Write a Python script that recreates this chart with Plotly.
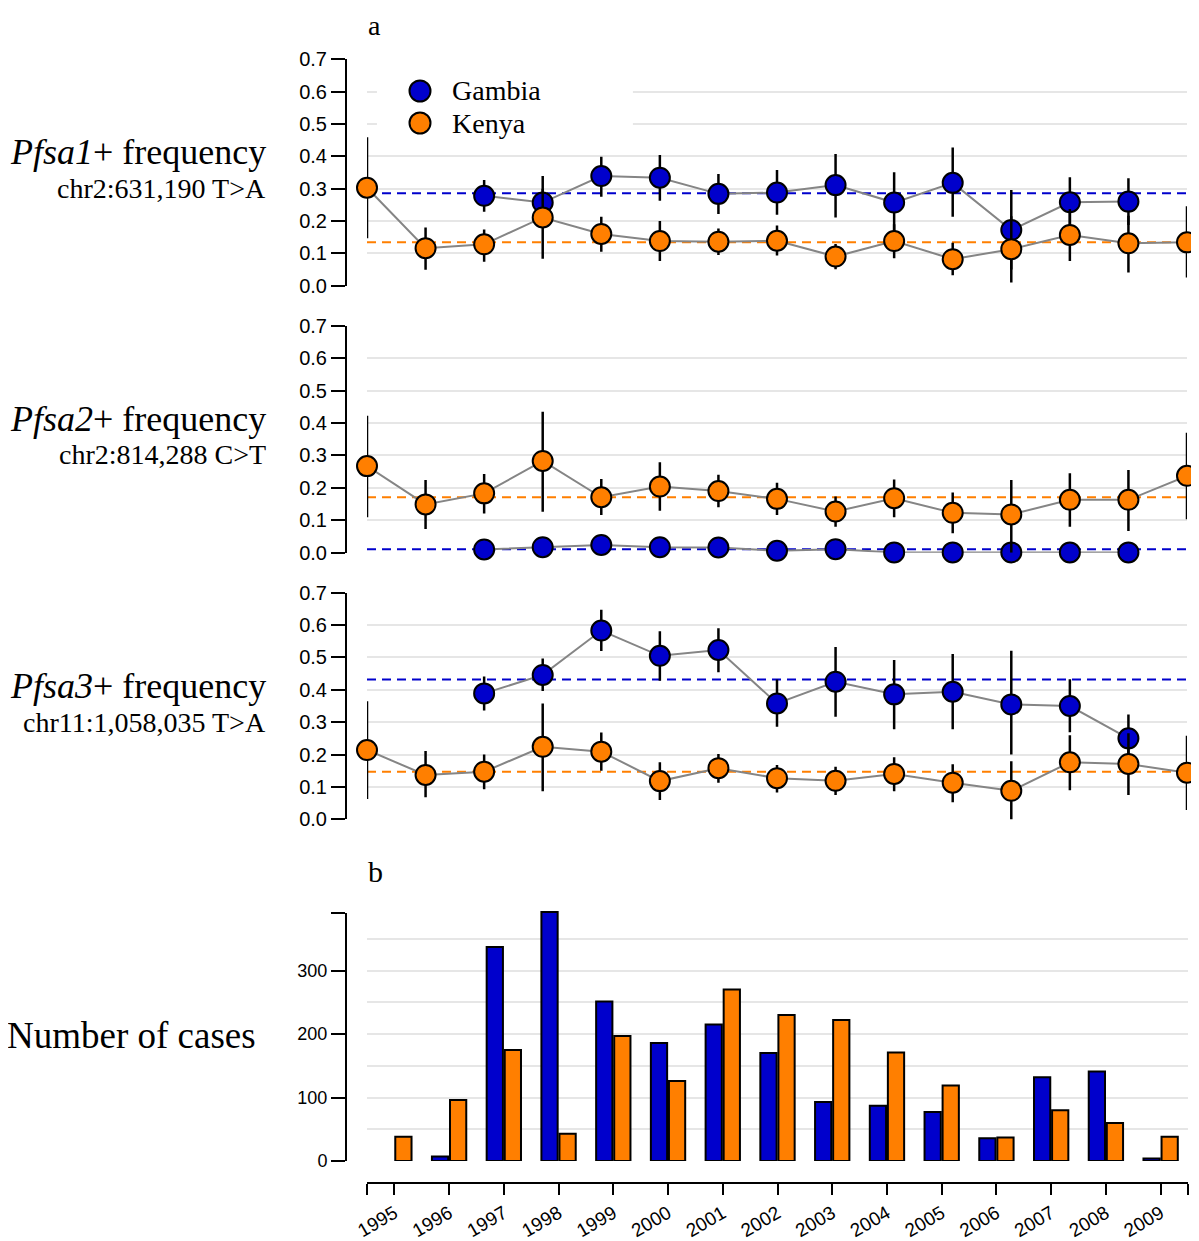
import plotly.graph_objects as go

# ---------------- data ----------------
years = list(range(1995, 2010))

# Pfsa1
p1_gambia = [None, None, 0.278, 0.257, 0.339, 0.334, 0.284, 0.288, 0.311, 0.257, 0.318, 0.172, 0.258, 0.260, None]
p1_gambia_hi = [None, None, 0.327, 0.300, 0.399, 0.404, 0.345, 0.358, 0.407, 0.351, 0.427, 0.296, 0.335, 0.332, None]
p1_gambia_lo = [None, None, 0.229, 0.215, 0.275, 0.263, 0.222, 0.219, 0.211, 0.165, 0.213, 0.050, 0.183, 0.188, None]
p1_kenya = [0.303, 0.116, 0.128, 0.211, 0.160, 0.138, 0.136, 0.139, 0.090, 0.138, 0.082, 0.113, 0.157, 0.131, 0.134]
p1_kenya_hi = [0.459, 0.180, 0.174, 0.339, 0.213, 0.200, 0.177, 0.186, 0.129, 0.190, 0.133, 0.215, 0.237, 0.216, 0.246]
p1_kenya_lo = [0.147, 0.049, 0.074, 0.083, 0.105, 0.076, 0.095, 0.093, 0.051, 0.085, 0.032, 0.010, 0.076, 0.041, 0.025]
p1_mean_gambia = 0.286
p1_mean_kenya = 0.134

# Pfsa2
p2_gambia = [None, None, 0.010, 0.017, 0.024, 0.017, 0.016, 0.006, 0.011, 0.001, 0.001, 0.001, 0.001, 0.001, None]
p2_gambia_hi = [None, None, 0.021, 0.030, 0.043, 0.036, 0.033, 0.018, 0.032, 0.012, 0.014, 0.030, 0.010, 0.010, None]
p2_gambia_lo = [None, None, 0.000, 0.004, 0.005, 0.000, 0.000, 0.000, 0.000, 0.000, 0.000, 0.000, 0.000, 0.000, None]
p2_kenya = [0.267, 0.149, 0.183, 0.283, 0.171, 0.204, 0.190, 0.166, 0.127, 0.168, 0.123, 0.118, 0.163, 0.163, 0.237]
p2_kenya_hi = [0.422, 0.224, 0.243, 0.435, 0.227, 0.279, 0.240, 0.216, 0.173, 0.226, 0.186, 0.224, 0.245, 0.255, 0.370]
p2_kenya_lo = [0.109, 0.073, 0.121, 0.126, 0.116, 0.129, 0.140, 0.116, 0.080, 0.109, 0.060, 0.000, 0.080, 0.067, 0.103]
p2_mean_gambia = 0.011
p2_mean_kenya = 0.171

# Pfsa3
p3_gambia = [None, None, 0.389, 0.446, 0.583, 0.505, 0.523, 0.358, 0.425, 0.386, 0.394, 0.355, 0.350, 0.250, None]
p3_gambia_hi = [None, None, 0.441, 0.497, 0.647, 0.581, 0.590, 0.432, 0.532, 0.492, 0.511, 0.521, 0.433, 0.324, None]
p3_gambia_lo = [None, None, 0.336, 0.396, 0.520, 0.428, 0.454, 0.286, 0.317, 0.278, 0.278, 0.200, 0.269, 0.180, None]
p3_kenya = [0.214, 0.137, 0.147, 0.224, 0.209, 0.118, 0.158, 0.127, 0.119, 0.140, 0.113, 0.088, 0.176, 0.171, 0.144]
p3_kenya_hi = [0.365, 0.211, 0.200, 0.358, 0.268, 0.176, 0.202, 0.168, 0.162, 0.192, 0.170, 0.179, 0.260, 0.266, 0.258]
p3_kenya_lo = [0.063, 0.068, 0.093, 0.087, 0.150, 0.060, 0.113, 0.083, 0.075, 0.087, 0.053, -0.005, 0.090, 0.075, 0.029]
p3_mean_gambia = 0.432
p3_mean_kenya = 0.147

# Number of cases
cases_gambia = [None, 7, 337, 392, 251, 186, 215, 170, 93, 87, 77, 36, 132, 141, 4]
cases_kenya = [38, 96, 175, 43, 197, 126, 270, 230, 222, 171, 119, 37, 80, 60, 38]

legend_names = ["Gambia", "Kenya"]
panel_titles = ["<i>Pfsa1</i>+ frequency", "<i>Pfsa2</i>+ frequency", "<i>Pfsa3</i>+ frequency"]
panel_subtitles = ["chr2:631,190 T>A", "chr2:814,288 C>T", "chr11:1,058,035 T>A"]
freq_ticks = [0.0, 0.1, 0.2, 0.3, 0.4, 0.5, 0.6, 0.7]
case_ticks = [0, 100, 200, 300, 390]
case_ticktext = ["0", "100", "200", "300", ""]

# ---------------- style ----------------
BLUE = "#0000cc"
ORANGE = "#ff7f00"
GREY = "#858585"
GRID = "#e6e6e6"
SERIF = "Liberation Serif"
SANS = "Liberation Sans"
OFF = 8                      # page body margin of the browser
W, H = 1199 - OFF, 1241 - OFF
legend_colors = [BLUE, ORANGE]


def px_x(p):
    return (p - OFF) / W


def px_y(p):
    return 1 - (p - OFF) / H


X0, X1 = px_x(367), px_x(1187)
YAX = px_x(346)
freq_domains = [
    [px_y(285.7), px_y(59.3)],
    [px_y(552.7), px_y(325.7)],
    [px_y(819.3), px_y(592.7)],
]

panels = [
    (p1_gambia, p1_gambia_hi, p1_gambia_lo, p1_kenya, p1_kenya_hi, p1_kenya_lo, p1_mean_gambia, p1_mean_kenya),
    (p2_gambia, p2_gambia_hi, p2_gambia_lo, p2_kenya, p2_kenya_hi, p2_kenya_lo, p2_mean_gambia, p2_mean_kenya),
    (p3_gambia, p3_gambia_hi, p3_gambia_lo, p3_kenya, p3_kenya_hi, p3_kenya_lo, p3_mean_gambia, p3_mean_kenya),
]


def err(vals, hi):
    return [None if v is None else h - v for v, h in zip(vals, hi)]


def errm(vals, lo):
    return [None if v is None else v - l for v, l in zip(vals, lo)]


fig = go.Figure()

for i, (g, gh, gl, k, kh, kl, mg, mk) in enumerate(panels, start=1):
    xa = "x" if i == 1 else f"x{i}"
    ya = "y" if i == 1 else f"y{i}"
    # mean dashed lines
    for m, c in ((mg, BLUE), (mk, ORANGE)):
        fig.add_trace(go.Scatter(
            x=[years[0], years[-1]], y=[m, m], mode="lines", xaxis=xa, yaxis=ya,
            line=dict(color=c, width=2, dash="9px,6px"), showlegend=False,
            hoverinfo="skip", cliponaxis=False))
    # grey connecting lines
    for vals in (g, k):
        fig.add_trace(go.Scatter(
            x=years, y=vals, mode="lines", xaxis=xa, yaxis=ya,
            line=dict(color=GREY, width=2), connectgaps=False,
            showlegend=False, hoverinfo="skip", cliponaxis=False))
    # markers with error bars
    for name, vals, hi, lo, c in (("Gambia", g, gh, gl, BLUE), ("Kenya", k, kh, kl, ORANGE)):
        fig.add_trace(go.Scatter(
            x=years, y=vals, mode="markers", xaxis=xa, yaxis=ya, name=name,
            showlegend=False, cliponaxis=False,
            marker=dict(size=20, color=c, line=dict(color="black", width=2)),
            error_y=dict(type="data", symmetric=False, array=err(vals, hi),
                         arrayminus=errm(vals, lo), color="black",
                         thickness=2.5, width=0)))

# bars
for name, vals, c in (("Gambia", cases_gambia, BLUE), ("Kenya", cases_kenya, ORANGE)):
    fig.add_trace(go.Bar(
        x=years, y=vals, name=name, xaxis="x4", yaxis="y4", showlegend=False,
        marker=dict(color=c, line=dict(color="black", width=2)), cliponaxis=False,
        hoverinfo="skip"))

# invisible anchor trace for the tick axis of panel b
fig.add_trace(go.Scatter(x=[years[0]], y=[0], xaxis="x4", yaxis="y5", mode="markers",
                         marker=dict(opacity=0), showlegend=False, hoverinfo="skip"))

# legend drawn as a small scatter (category index on its own hidden axes)
fig.add_trace(go.Scatter(
    x=[0] * len(legend_names), y=list(range(len(legend_names))), mode="markers",
    xaxis="x5", yaxis="y6", showlegend=False, hoverinfo="skip", cliponaxis=False,
    marker=dict(size=21, color=legend_colors, line=dict(color="black", width=2))))

layout = dict(
    width=W, height=H, margin=dict(l=0, r=0, t=0, b=0, autoexpand=False),
    paper_bgcolor="white", plot_bgcolor="rgba(0,0,0,0)",
    barmode="group", bargap=0.34, bargroupgap=0.1,
    showlegend=False,
)

for i in range(1, 4):
    xk = "xaxis" if i == 1 else f"xaxis{i}"
    yk = "yaxis" if i == 1 else f"yaxis{i}"
    layout[xk] = dict(domain=[X0, X1], range=[1995, 2009], visible=False,
                      anchor="y" if i == 1 else f"y{i}")
    layout[yk] = dict(domain=freq_domains[i - 1], range=[0, 0.7], anchor="free",
                      position=YAX, tickvals=freq_ticks, tickformat=".1f",
                      showline=True, linecolor="black", linewidth=2,
                      ticks="outside", ticklen=14, tickwidth=2, tickcolor="black",
                      showgrid=True, gridcolor=GRID, gridwidth=2, zeroline=False,
                      tickfont=dict(family=SANS, size=20, color="black"))

layout["xaxis4"] = dict(
    domain=[X0, px_x(1188)], range=[1994.5, 2009.5], anchor="free",
    position=px_y(1183), showline=True, linecolor="black", linewidth=2,
    tickvals=[1994.5] + years + [2009.5],
    ticktext=[""] + [str(y) for y in years] + [""],
    tickangle=-30, ticks="outside", ticklen=11, tickwidth=2, tickcolor="black",
    showgrid=False, zeroline=False,
    tickfont=dict(family=SANS, size=19, color="black"))
layout["yaxis4"] = dict(
    domain=[px_y(1161), px_y(907)], range=[0, 400], anchor="x4", dtick=50,
    showgrid=True, gridcolor=GRID, gridwidth=2, showticklabels=False,
    ticks="", showline=False, zeroline=False)
layout["yaxis5"] = dict(
    domain=[px_y(1161), px_y(1161 - 390 * 0.635)], range=[0, 390], anchor="free",
    position=YAX, tickvals=case_ticks, ticktext=case_ticktext,
    showline=True, linecolor="black", linewidth=2, ticks="outside", ticklen=14,
    tickwidth=2, tickcolor="black", showgrid=False, zeroline=False,
    tickfont=dict(family=SANS, size=18, color="black"))
# legend axes
layout["xaxis5"] = dict(domain=[px_x(400), px_x(440)], range=[-1, 1], visible=False,
                        anchor="y6")
layout["yaxis6"] = dict(domain=[px_y(139), px_y(75)], range=[1.5, -0.5], visible=False,
                        anchor="x5")

fig.update_layout(**layout)

# white box behind the legend (hides gridlines only)
fig.add_shape(type="rect", xref="x", yref="y", x0=1995.17, x1=1999.54, y0=0.45, y1=0.655,
              fillcolor="white", line=dict(width=0), layer="between")

annotations = [
    dict(text="a", x=px_x(366), y=px_y(8), xanchor="left", yanchor="top",
         font=dict(family=SERIF, size=28, color="black")),
    dict(text="b", x=px_x(366), y=px_y(871), xanchor="left", yanchor="middle",
         font=dict(family=SERIF, size=30, color="black")),
    dict(text="Number of cases", x=px_x(258), y=px_y(1035), xanchor="right",
         yanchor="middle", font=dict(family=SERIF, size=37, color="black")),
]
for j, (nm, ly) in enumerate(zip(legend_names, [91, 123])):
    annotations.append(dict(text=nm, x=px_x(450), y=px_y(ly), xanchor="left",
                            yanchor="middle",
                            font=dict(family=SERIF, size=28, color="black")))
title_y = [152, 419, 686]
sub_y = [188, 454, 722]
for t, s, ty, sy in zip(panel_titles, panel_subtitles, title_y, sub_y):
    annotations.append(dict(text=t, x=px_x(268), y=px_y(ty), xanchor="right",
                            yanchor="middle", font=dict(family=SERIF, size=36, color="black")))
    annotations.append(dict(text=s, x=px_x(268), y=px_y(sy), xanchor="right",
                            yanchor="middle", font=dict(family=SERIF, size=28, color="black")))
for a in annotations:
    a.update(xref="paper", yref="paper", showarrow=False)
fig.update_layout(annotations=annotations)

fig.write_html("out.html")
